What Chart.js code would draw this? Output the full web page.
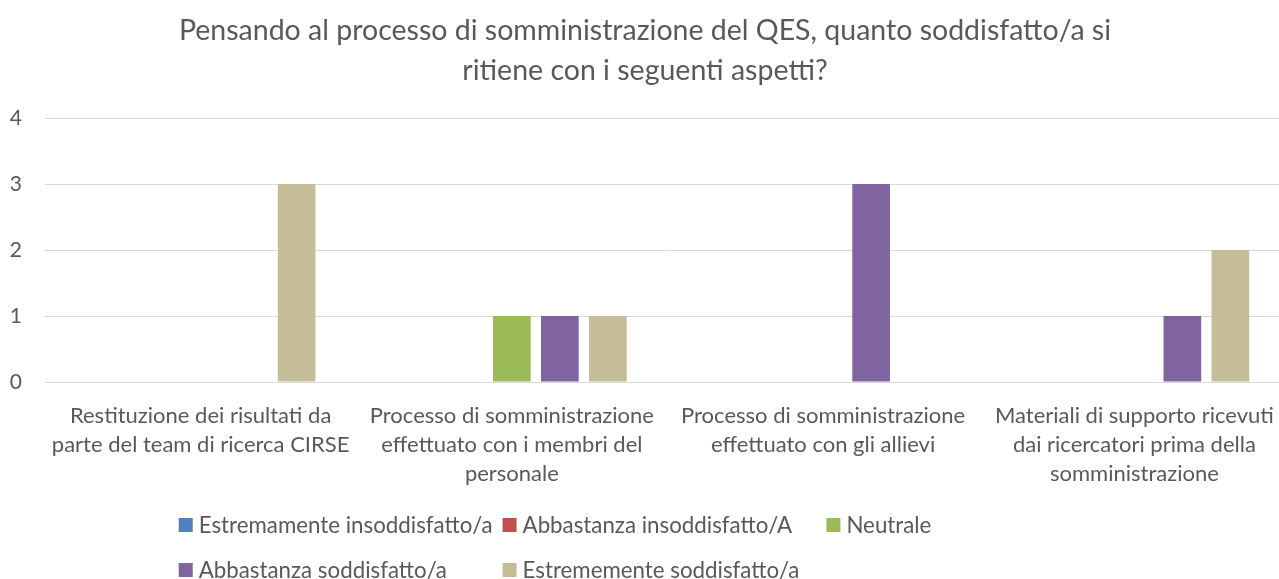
<!DOCTYPE html>
<html>
<head>
<meta charset="utf-8">
<script src="https://cdn.jsdelivr.net/npm/chart.js@4.4.1/dist/chart.umd.min.js"></script>
<style>
  html, body { margin: 0; padding: 0; background: #fff; overflow: hidden; }
  #chart { display: block; }
</style>
</head>
<body>
<canvas id="chart" width="1292" height="579"></canvas>
<script>
// Categorie (asse x), su più righe come nel grafico originale
var categorie = [
  ["Restituzione dei risultati da", "parte del team di ricerca CIRSE"],
  ["Processo di somministrazione", "effettuato con i membri del", "personale"],
  ["Processo di somministrazione", "effettuato con gli allievi"],
  ["Materiali di supporto ricevuti", "dai ricercatori prima della", "somministrazione"]
];

// Serie
var estremamenteInsoddisfatto = [0, 0, 0, 0];
var abbastanzaInsoddisfatto = [0, 0, 0, 0];
var neutrale = [0, 1, 0, 0];
var abbastanzaSoddisfatto = [0, 1, 3, 1];
var estremamenteSoddisfatto = [3, 1, 0, 2];

var etichetteSerie = [
  "Estremamente insoddisfatto/a",
  "Abbastanza insoddisfatto/A",
  "Neutrale",
  "Abbastanza soddisfatto/a",
  "Estrememente soddisfatto/a"
];

var tickY = [0, 1, 2, 3, 4];

var titolo = [
  "Pensando al processo di somministrazione del QES, quanto soddisfatto/a si",
  "ritiene con i seguenti aspetti?"
];

var colori = ['#4F81BD', '#C0504D', '#9BBB59', '#8064A2', '#C4BD97'];
var grigioTesto = '#595959';
var FONT = "Lato, 'Open Sans', sans-serif";

// Legenda disegnata a colonne, come in Excel
var legendaColonne = {
  id: 'legendaColonne',
  afterDraw: function (chart) {
    var ctx = chart.ctx;
    var size = 22.3;
    ctx.save();
    ctx.font = size + 'px ' + FONT;
    ctx.textBaseline = 'middle';
    ctx.textAlign = 'left';
    var box = 14, gap = 6;
    var maxW = 0;
    chart.data.datasets.forEach(function (ds) {
      maxW = Math.max(maxW, box + gap + ctx.measureText(ds.label).width);
    });
    var colW = maxW + 10;
    var cols = 3;
    var area = chart.chartArea;
    var startX = (area.left + area.right) / 2 - (cols * colW) / 2 - 3;
    var rowsY = [525, 570];
    chart.data.datasets.forEach(function (ds, i) {
      var col = i % cols, row = Math.floor(i / cols);
      var x = startX + col * colW;
      var y = rowsY[row];
      ctx.fillStyle = ds.backgroundColor;
      ctx.fillRect(x, y - box / 2, box, box);
      ctx.fillStyle = grigioTesto;
      ctx.fillText(ds.label, x + box + gap, y + 1);
    });
    ctx.restore();
  }
};

var serie = [estremamenteInsoddisfatto, abbastanzaInsoddisfatto, neutrale, abbastanzaSoddisfatto, estremamenteSoddisfatto];

new Chart(document.getElementById('chart').getContext('2d'), {
  type: 'bar',
  data: {
    labels: categorie,
    datasets: serie.map(function (valori, i) {
      return {
        label: etichetteSerie[i],
        data: valori,
        backgroundColor: colori[i],
        borderWidth: 0,
        categoryPercentage: 0.771,
        barPercentage: 0.785
      };
    })
  },
  options: {
    responsive: false,
    devicePixelRatio: 1,
    animation: false,
    layout: { padding: { left: 0, right: 2, top: 0, bottom: 87 } },
    plugins: {
      legend: { display: false },
      tooltip: { enabled: false },
      title: {
        display: true,
        text: titolo,
        color: grigioTesto,
        font: { family: FONT, size: 28.5, weight: 'normal', lineHeight: '40px' },
        padding: { top: 11, bottom: 27 }
      }
    },
    scales: {
      x: {
        grid: { display: false },
        border: { display: false },
        ticks: {
          color: grigioTesto,
          font: { family: FONT, size: 22, lineHeight: '29px' },
          padding: 11,
          maxRotation: 0,
          autoSkip: false
        },
        afterFit: function (scale) { scale.height = 110; }
      },
      y: {
        min: 0,
        max: 4,
        afterBuildTicks: function (scale) {
          scale.ticks = tickY.map(function (v) { return { value: v }; });
        },
        grid: { color: '#D9D9D9', lineWidth: 1, drawTicks: false },
        border: { display: false },
        ticks: {
          color: grigioTesto,
          font: { family: FONT, size: 21 },
          padding: 23
        },
        afterFit: function (scale) { scale.width = 45; }
      }
    }
  },
  plugins: [legendaColonne]
});
</script>
</body>
</html>
